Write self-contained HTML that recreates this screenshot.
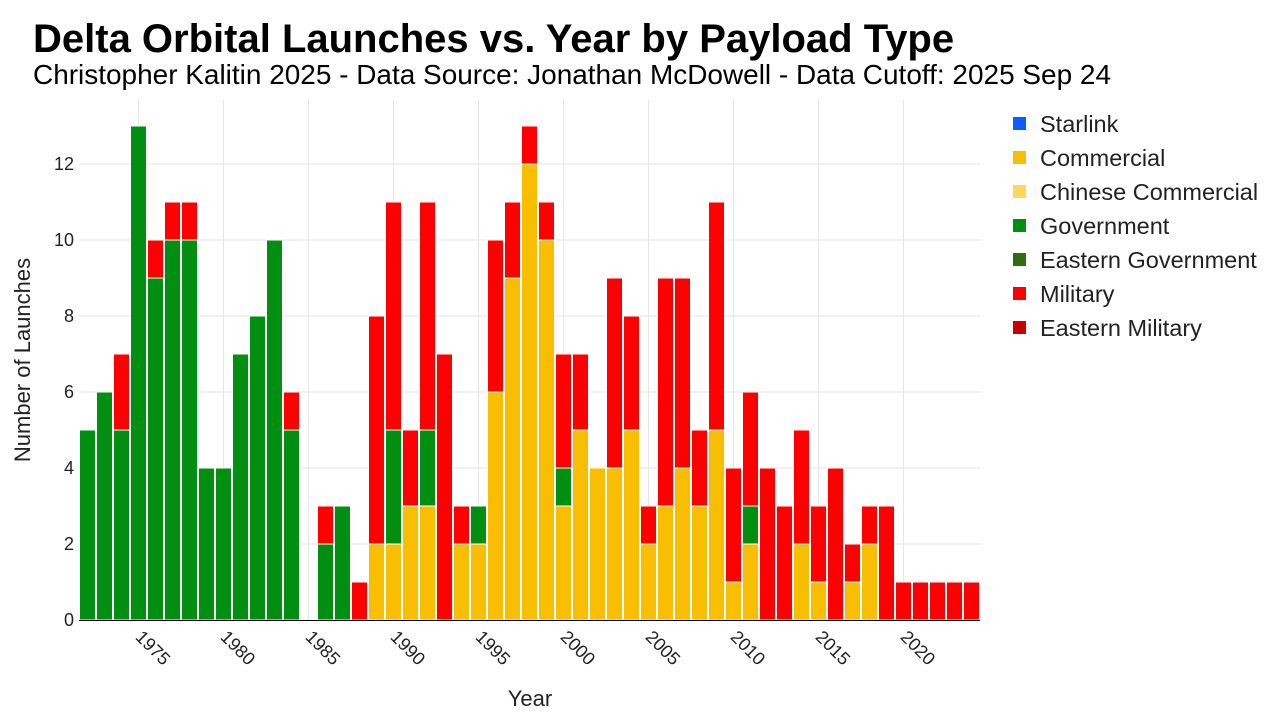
<!DOCTYPE html>
<html><head><meta charset="utf-8"><style>
body{margin:0;background:#fff;}
svg{display:block;font-family:"Liberation Sans",Arial,sans-serif;}
</style></head><body>
<svg id="s" width="1280" height="720" xmlns="http://www.w3.org/2000/svg">
<rect width="1280" height="720" fill="#fff"/>
<text x="33" y="52" font-size="40" font-weight="bold" fill="#000">Delta Orbital Launches vs. Year by Payload Type</text>
<text x="33" y="84" font-size="28" fill="#000" textLength="1078" lengthAdjust="spacingAndGlyphs">Christopher Kalitin 2025 - Data Source: Jonathan McDowell - Data Cutoff: 2025 Sep 24</text>
<g id="grid"></g>
<g id="bars"></g>
<line x1="79" y1="620.5" x2="980" y2="620.5" stroke="#000" stroke-width="1"/>
<g id="labels" font-size="18" fill="#222"></g>
<text x="530" y="706" font-size="22" text-anchor="middle" fill="#222">Year</text>
<text transform="translate(30,360) rotate(-90)" font-size="22" text-anchor="middle" fill="#222">Number of Launches</text>
<g font-size="23.5" fill="#222">
<rect x="1013" y="117" width="13" height="13" fill="#0a5cff"/><text x="1040" y="132">Starlink</text>
<rect x="1013" y="151" width="13" height="13" fill="#f9be00"/><text x="1040" y="166">Commercial</text>
<rect x="1013" y="185" width="13" height="13" fill="#fdd85a"/><text x="1040" y="200">Chinese Commercial</text>
<rect x="1013" y="219" width="13" height="13" fill="#008f11"/><text x="1040" y="234">Government</text>
<rect x="1013" y="253" width="13" height="13" fill="#2e6e10"/><text x="1040" y="268">Eastern Government</text>
<rect x="1013" y="287" width="13" height="13" fill="#ff0000"/><text x="1040" y="302">Military</text>
<rect x="1013" y="321" width="13" height="13" fill="#c80000"/><text x="1040" y="336">Eastern Military</text>
</g>
</svg>
<script>
var NS="http://www.w3.org/2000/svg";
function el(t,a,p,txt){var e=document.createElementNS(NS,t);for(var k in a)e.setAttribute(k,a[k]);if(txt!=null)e.textContent=txt;document.getElementById(p).appendChild(e);return e;}
var y0=620,u=38,w=17;
function cx(y){return 87.5+(y-1972)*w;}
for(var v=0;v<=12;v+=2){var yy=y0-v*u;
 if(v>0)el("line",{x1:79,x2:980,y1:yy,y2:yy,stroke:"#e6e6e6","stroke-width":1},"grid");
 el("text",{x:74,y:yy+6,"text-anchor":"end"},"labels",String(v));}
for(var yr=1975;yr<=2020;yr+=5){var x=cx(yr);
 el("line",{x1:x,x2:x,y1:100,y2:620,stroke:"#e6e6e6","stroke-width":1},"grid");
 el("text",{x:0,y:0,transform:"translate("+(x-4)+",638) rotate(45)"},"labels",String(yr));}
var d={1972:[0,5,0],1973:[0,6,0],1974:[0,5,2],1975:[0,13,0],1976:[0,9,1],1977:[0,10,1],1978:[0,10,1],1979:[0,4,0],1980:[0,4,0],1981:[0,7,0],1982:[0,8,0],1983:[0,10,0],1984:[0,5,1],1986:[0,2,1],1987:[0,3,0],1988:[0,0,1],1989:[2,0,6],1990:[2,3,6],1991:[3,0,2],1992:[3,2,6],1993:[0,0,7],1994:[2,0,1],1995:[2,1,0],1996:[6,0,4],1997:[9,0,2],1998:[12,0,1],1999:[10,0,1],2000:[3,1,3],2001:[5,0,2],2002:[4,0,0],2003:[4,0,5],2004:[5,0,3],2005:[2,0,1],2006:[3,0,6],2007:[4,0,5],2008:[3,0,2],2009:[5,0,6],2010:[1,0,3],2011:[2,1,3],2012:[0,0,4],2013:[0,0,3],2014:[2,0,3],2015:[1,0,2],2016:[0,0,4],2017:[1,0,1],2018:[2,0,1],2019:[0,0,3],2020:[0,0,1],2021:[0,0,1],2022:[0,0,1],2023:[0,0,1],2024:[0,0,1]};
var cols=["#f9be00","#008f11","#ff0000"];
for(var k in d){var base=0,x=cx(+k)-w/2;
 for(var i=0;i<3;i++){var n=d[k][i];if(!n)continue;
  el("rect",{x:x+0.5,y:y0-(base+n)*u,width:w-1,height:n*u,fill:cols[i],stroke:"#fff","stroke-width":1},"bars");
  base+=n;}}
</script>
</body></html>
